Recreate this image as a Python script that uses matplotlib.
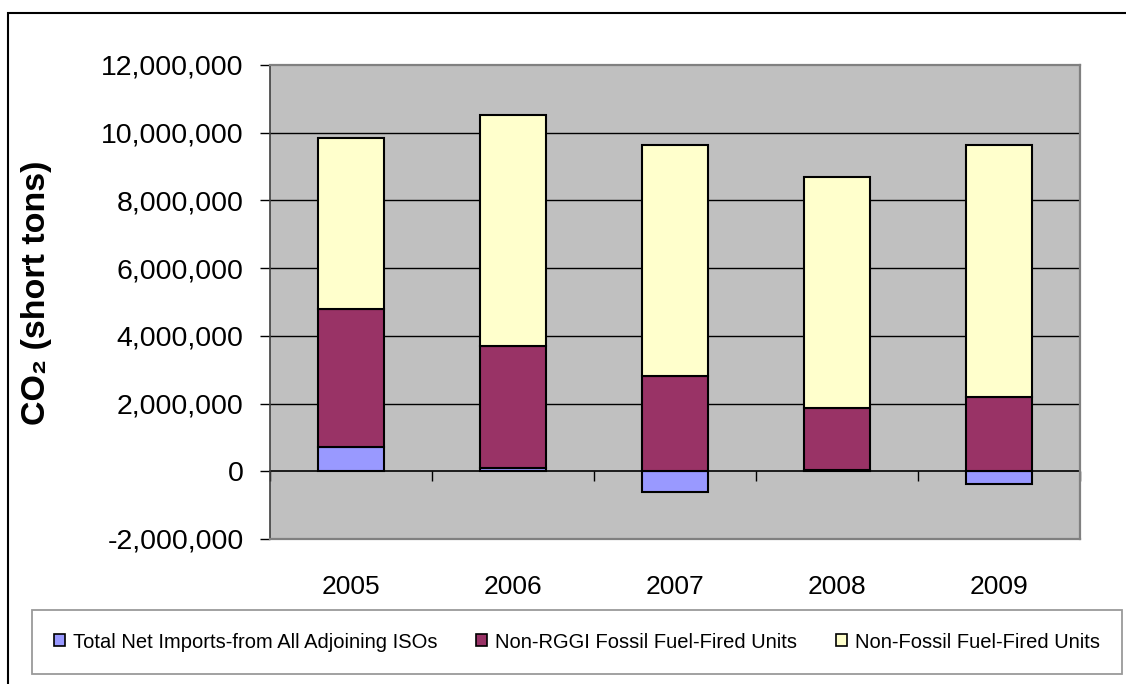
import matplotlib
matplotlib.use("Agg")
import matplotlib.pyplot as plt
from matplotlib.patches import Patch, Rectangle
from matplotlib.ticker import FuncFormatter
import numpy as np

# CO2 emissions attributed to electricity sources (short tons)
years = ["2005", "2006", "2007", "2008", "2009"]
net_imports = [708000, 100000, -610000, 40000, -390000]
non_rggi_fossil = [4080000, 3590000, 2820000, 1830000, 2200000]
non_fossil = [5060000, 6830000, 6830000, 6810000, 7450000]

series_labels = [
    "Total Net Imports-from All Adjoining ISOs",
    "Non-RGGI Fossil Fuel-Fired Units",
    "Non-Fossil Fuel-Fired Units",
]
series_colors = ["#9999FF", "#993366", "#FFFFCC"]

y_ticks = [-2000000, 0, 2000000, 4000000, 6000000, 8000000, 10000000, 12000000]

FONT = ["Liberation Sans", "DejaVu Sans"]

W, H = 1126, 684
fig = plt.figure(figsize=(W / 100, H / 100), dpi=100)
fig.patch.set_facecolor("white")

# plot area in pixel coordinates
left, right, top, bottom = 270, 1080, 65, 539
ax = fig.add_axes([left / W, (H - bottom) / H, (right - left) / W, (bottom - top) / H])
ax.set_facecolor("#C0C0C0")

x = np.arange(len(years))
bar_w = 0.41

imports = np.array(net_imports, dtype=float)
rggi = np.array(non_rggi_fossil, dtype=float)
nonfos = np.array(non_fossil, dtype=float)
base2 = np.maximum(imports, 0)
base3 = base2 + rggi

kw = dict(width=bar_w, edgecolor="black", linewidth=1.5, zorder=3)
ax.bar(x, imports, color=series_colors[0], **kw)
ax.bar(x, rggi, bottom=base2, color=series_colors[1], **kw)
ax.bar(x, nonfos, bottom=base3, color=series_colors[2], **kw)

ymin, ymax = y_ticks[0], y_ticks[-1]
ax.set_ylim(ymin, ymax)
ax.set_xlim(-0.5, len(years) - 0.5)

ax.set_yticks(y_ticks)
ax.yaxis.set_major_formatter(FuncFormatter(lambda v, p: f"{v:,.0f}"))
ax.tick_params(axis="y", direction="out", length=7, width=1, pad=12,
               labelsize=20.5, color="black")
for lab in ax.get_yticklabels():
    lab.set_family(FONT)

ax.set_xticks(x)
ax.set_xticklabels(years)
ax.tick_params(axis="x", length=0, pad=26, labelsize=19)
for lab in ax.get_xticklabels():
    lab.set_family(FONT)

# horizontal gridlines
for yv in y_ticks[1:-1]:
    if yv != 0:
        ax.axhline(yv, color="black", linewidth=1, zorder=1)

# plot-area border
for s in ["top", "right", "bottom"]:
    ax.spines[s].set_color("#808080")
    ax.spines[s].set_linewidth(1.6)
ax.spines["left"].set_color("#404040")
ax.spines["left"].set_linewidth(1.2)

# category axis crossing at zero, with ticks between categories
zero_pos = (0 - ymin) / (ymax - ymin)
sec = ax.secondary_xaxis(zero_pos)
sec.set_xticks(np.arange(-0.5, len(years), 1.0))
sec.set_xticklabels([])
sec.tick_params(axis="x", direction="out", length=7, width=1, color="black")
sec.spines["bottom"].set_color("black")
sec.spines["bottom"].set_linewidth(1.2)

ax.set_ylabel("CO\u2082 (short tons)", fontsize=24.5, fontweight="bold",
              family=FONT)
ax.yaxis.set_label_coords(-(left - 52) / (right - left), 0.52)

# legend
handles = [Patch(facecolor=c, edgecolor="black", linewidth=1.2) for c in series_colors]
leg = fig.legend(
    handles, series_labels, loc="center", ncol=3, mode="expand",
    bbox_to_anchor=(32 / W, 9 / H, 1090 / W, 66 / H),
    frameon=True, fancybox=False, edgecolor="#808080", borderpad=1.1,
    handlelength=0.55, handleheight=0.55, handletextpad=0.4,
    columnspacing=1.5, borderaxespad=0,
    prop={"family": FONT, "size": 14.5},
)
leg.get_frame().set_linewidth(1.3)

# outer chart border
fig.patches.append(Rectangle((8 / W, -0.1), 1.2, (H - 13) / H + 0.1,
                             transform=fig.transFigure, fill=False,
                             edgecolor="black", linewidth=1.5, zorder=0))

fig.savefig("out.png", dpi=100)
